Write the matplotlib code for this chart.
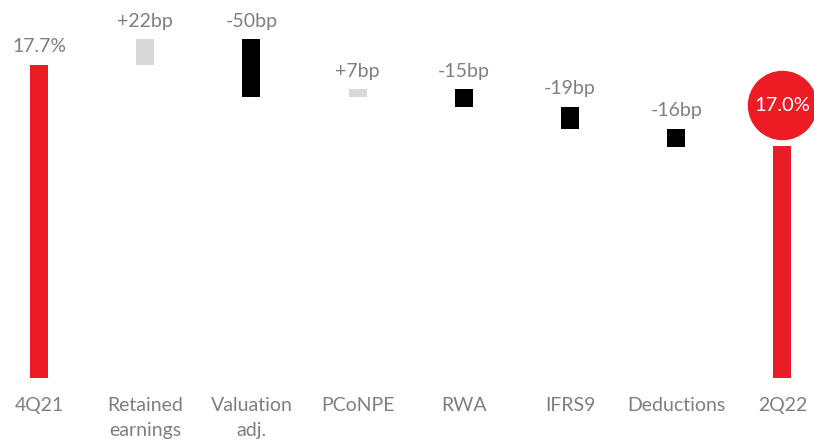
import matplotlib
matplotlib.use("Agg")
import matplotlib.pyplot as plt

# data
categories = ["4Q21", "Retained\nearnings", "Valuation\nadj.", "PCoNPE", "RWA",
              "IFRS9", "Deductions", "2Q22"]
start_value = 17.7
end_value = 17.0
deltas_bp = [22, -50, 7, -15, -19, -16]
delta_labels = ["+22bp", "-50bp", "+7bp", "-15bp", "-19bp", "-16bp"]

RED = "#ED1C24"
GREY_BAR = "#D9D9D9"
TEXT = "#7F7F7F"

plt.rcParams["font.family"] = ["Lato", "DejaVu Sans"]

fig = plt.figure(figsize=(8.14, 4.42), dpi=100)
ax = fig.add_axes([0, 0.145, 1, 0.855])
base = 15.0
width = 0.17

# start bar
ax.bar(0, start_value - base, bottom=base, width=width, color=RED)
ax.annotate(f"{start_value:.1f}%", (0, start_value), xytext=(0, 7),
            textcoords="offset points", ha="center", va="bottom",
            fontsize=14, color=TEXT)

level = start_value
for i, (d, lab) in enumerate(zip(deltas_bp, delta_labels), start=1):
    new = level + d / 100
    lo, hi = min(level, new), max(level, new)
    ax.bar(i, hi - lo, bottom=lo, width=width,
           color=GREY_BAR if d > 0 else "black")
    ax.annotate(lab, (i, hi), xytext=(0, 7), textcoords="offset points",
                ha="center", va="bottom", fontsize=14, color=TEXT)
    level = new

# end bar with bubble
n = len(categories) - 1
ax.bar(n, end_value - base, bottom=base, width=width, color=RED)
ax.scatter([n], [end_value + 0.35], s=2400, color=RED, zorder=3, clip_on=False)
ax.text(n, end_value + 0.35, f"{end_value:.1f}%", ha="center", va="center",
        fontsize=14.5, color="white", zorder=4)

ax.set_xlim(-0.367, 7.297)
ax.set_ylim(base, 18.26)
ax.set_xticks(range(len(categories)))
ax.set_xticklabels(categories, fontsize=14, color=TEXT, linespacing=1.55)
ax.tick_params(axis="x", length=0, pad=14)
ax.set_yticks([])
for s in ax.spines.values():
    s.set_visible(False)

fig.savefig("out.png", dpi=100)
